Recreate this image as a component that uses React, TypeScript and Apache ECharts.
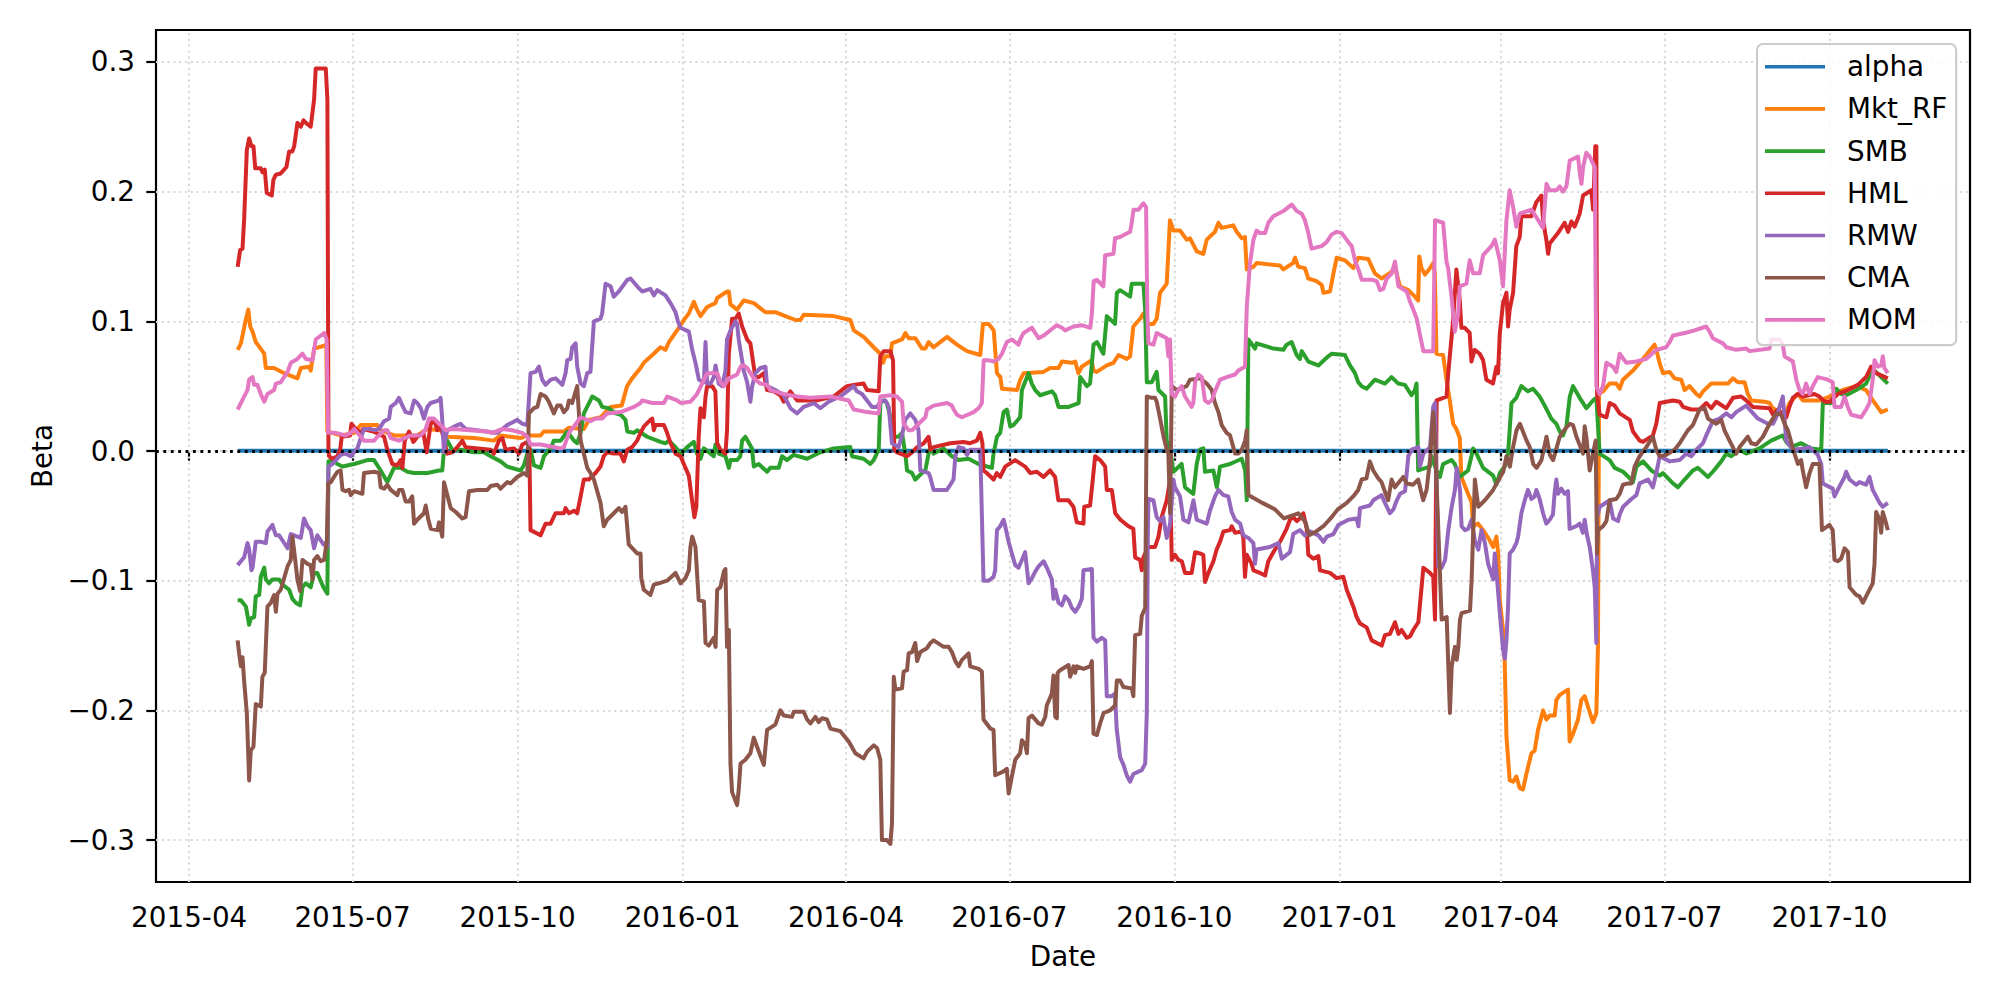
import React, { useEffect, useRef } from 'react';
import * as echarts from 'echarts';

// ---- axes ----
const BASE = Date.UTC(2015, 3, 1); // day 0 = 2015-04-01
const DAY = 86400000;
const X_MIN_DAY = -18.5;
const X_MAX_DAY = 992.3;
const Y_MIN = -0.3323;
const Y_MAX = 0.3246;
const X_TICKS = ['2015-04-01', '2015-07-01', '2015-10-01', '2016-01-01', '2016-04-01', '2016-07-01', '2016-10-01', '2017-01-01', '2017-04-01', '2017-07-01', '2017-10-01'];
const Y_TICKS = [-0.3, -0.2, -0.1, 0, 0.1, 0.2, 0.3];
const NAMES = ['alpha', 'Mkt_RF', 'SMB', 'HML', 'RMW', 'CMA', 'MOM'];
const COLORS = ['#1f77b4', '#ff7f0e', '#2ca02c', '#d62728', '#9467bd', '#8c564b', '#e377c2'];

// ---- data: [days since 2015-04-01, beta] ----
const ALPHA: [number, number][] = [[27, 0.0002], [300, 0.0002], [600, 0.0002], [946.5, 0.0002]];

const MKT_RF: [number, number][] = [[27,0.078],[28.8,0.083],[31.5,0.101],[32.9,0.109],[34,0.096],[35.3,0.092],[37.1,0.084],[40.3,0.078],[41.8,0.075],[42.7,0.064],[47.3,0.064],[52.9,0.06],[58.5,0.057],[60.3,0.056],[62.2,0.064],[66.8,0.065],[67.7,0.062],[69.6,0.079],[74.8,0.081],[76.4,0.082],[77,0.015],[84.4,0.012],[91.9,0.014],[95.6,0.02],[104.9,0.02],[106.7,0.016],[114.1,0.012],[127.1,0.012],[132.7,0.017],[140.1,0.016],[143.8,0.011],[158.7,0.01],[169.8,0.008],[173.5,0.012],[184.7,0.01],[188.4,0.012],[195.8,0.012],[197.6,0.015],[208.8,0.015],[211.6,0.018],[219.9,0.017],[222.7,0.024],[229.2,0.026],[234.8,0.034],[241,0.035],[244,0.05],[246.8,0.056],[251.5,0.064],[253.3,0.068],[258.1,0.074],[262.6,0.08],[265.4,0.078],[267.3,0.084],[272.8,0.095],[275.6,0.101],[278.4,0.106],[281.2,0.115],[283,0.109],[284.9,0.104],[288.6,0.111],[293.2,0.114],[294.2,0.118],[299.7,0.123],[300.7,0.123],[301.6,0.113],[305.3,0.109],[309,0.116],[314.6,0.114],[321.1,0.107],[326.6,0.107],[332.2,0.104],[337.8,0.101],[340.6,0.101],[342.4,0.105],[359.1,0.104],[368.4,0.101],[370.3,0.093],[375.8,0.088],[381.4,0.08],[385.1,0.075],[386.6,0.068],[387.9,0.073],[390.7,0.073],[391.6,0.083],[397.2,0.086],[399.1,0.091],[400.9,0.087],[404.6,0.087],[408.3,0.079],[410.2,0.079],[412,0.084],[414.8,0.08],[418.5,0.084],[422.3,0.088],[427.8,0.082],[433.4,0.077],[440.8,0.074],[442.3,0.098],[445.5,0.098],[448.3,0.093],[450.1,0.06],[452,0.057],[452.9,0.048],[461.3,0.047],[463.1,0.055],[465,0.06],[476,0.061],[479.7,0.064],[484.4,0.064],[486.3,0.069],[491.8,0.068],[493.7,0.069],[495.5,0.06],[497.4,0.065],[502.9,0.07],[503.9,0.062],[505.7,0.061],[511.3,0.066],[515,0.068],[517.8,0.074],[522.4,0.071],[524.3,0.073],[526.1,0.096],[529.9,0.102],[531.7,0.106],[533.6,0.098],[537.3,0.098],[539.1,0.102],[541,0.122],[544.7,0.129],[546.5,0.178],[548.4,0.17],[552.1,0.17],[555.8,0.163],[557.7,0.164],[561.4,0.154],[565.1,0.152],[567,0.163],[571.6,0.169],[573.5,0.176],[575.3,0.172],[581.8,0.174],[583.7,0.169],[586.5,0.164],[588.3,0.165],[589.3,0.14],[593,0.142],[594.8,0.145],[607.8,0.143],[609.7,0.14],[615.2,0.145],[616.2,0.149],[618,0.142],[621.7,0.141],[623.6,0.133],[628.2,0.131],[631.1,0.128],[632,0.122],[635.7,0.123],[637.6,0.137],[639.4,0.149],[644.1,0.147],[648.7,0.141],[651.4,0.149],[657,0.148],[660.7,0.137],[664.4,0.133],[670,0.138],[671.8,0.143],[672.8,0.137],[674.6,0.127],[679.3,0.124],[683,0.119],[684.8,0.116],[685.4,0.15],[686.7,0.141],[688.6,0.136],[691.4,0.141],[693.2,0.145],[694.1,0.137],[695,0.075],[698.7,0.074],[700.6,0.055],[702.4,0.039],[704.3,0.021],[706.1,0.017],[708,0.01],[708.9,-0.02],[712.6,-0.033],[714.5,-0.039],[715.4,-0.058],[718.2,-0.056],[721,-0.061],[724.7,-0.069],[726.6,-0.074],[728.4,-0.066],[729.4,-0.079],[730.3,-0.115],[732.1,-0.138],[733,-0.161],[734,-0.22],[735.8,-0.254],[737.7,-0.255],[739.5,-0.251],[741.4,-0.26],[743.2,-0.261],[745.1,-0.249],[747.9,-0.233],[749.7,-0.231],[751.6,-0.215],[754.4,-0.2],[756.3,-0.207],[758.1,-0.204],[760.9,-0.204],[761.8,-0.192],[763.7,-0.188],[768.3,-0.184],[769.2,-0.224],[771.1,-0.218],[773.9,-0.207],[775.7,-0.192],[777.6,-0.189],[779.4,-0.197],[782.2,-0.209],[784.1,-0.202],[785,-0.151],[785.6,0.044],[787.8,0.046],[791.5,0.052],[795.2,0.052],[797.1,0.048],[798.9,0.055],[804.5,0.062],[808.2,0.068],[811.9,0.074],[814.7,0.079],[816.5,0.082],[817.5,0.078],[819.3,0.068],[821.2,0.06],[824.9,0.061],[827.7,0.056],[831.4,0.055],[833.3,0.047],[836,0.05],[839.8,0.044],[841.6,0.042],[843.5,0.046],[848.1,0.052],[857.4,0.052],[860.2,0.056],[863,0.053],[866.7,0.053],[868.5,0.044],[870.4,0.039],[877.8,0.038],[880.6,0.037],[882.4,0.033],[888,0.029],[889.9,0.03],[891.7,0.037],[896.4,0.044],[899.1,0.039],[908.4,0.039],[914.1,0.042],[921.3,0.047],[928.9,0.05],[934.4,0.047],[937.2,0.041],[942.8,0.03],[946.5,0.032]];

const SMB: [number, number][] = [[27,-0.115],[28.8,-0.115],[31.6,-0.12],[33.4,-0.134],[34.3,-0.129],[36.2,-0.128],[37.1,-0.112],[39,-0.111],[39.9,-0.097],[41.8,-0.09],[42.7,-0.099],[44.5,-0.102],[46.4,-0.099],[50.1,-0.099],[52,-0.103],[55.7,-0.107],[57.5,-0.114],[59.4,-0.117],[61.8,-0.119],[63.1,-0.105],[65,-0.102],[67.7,-0.105],[69.6,-0.094],[71.4,-0.094],[74.8,-0.105],[77,-0.11],[77.6,-0.008],[79.8,-0.007],[82.6,-0.01],[85.4,-0.012],[91.9,-0.01],[99.3,-0.007],[103,-0.007],[106.7,-0.015],[110.4,-0.024],[114.1,-0.013],[117.8,-0.013],[121.6,-0.016],[125.3,-0.017],[132.7,-0.017],[139.2,-0.015],[141,-0.015],[142,0.001],[143.8,0.008],[146.6,0.001],[151.2,0.001],[158.7,-0.001],[164.2,-0.001],[168,-0.004],[173.5,-0.008],[177.2,-0.012],[184.7,-0.015],[186.5,-0.011],[188.4,-0.002],[190.2,0.001],[192.1,-0.011],[195.8,-0.013],[197.7,-0.004],[201.4,0.002],[203.2,0.008],[207,0.008],[210.7,0.015],[214.4,0.008],[216.2,0.006],[218.1,0.014],[219.9,0.029],[224.6,0.042],[228.3,0.039],[230.1,0.034],[233.8,0.033],[237.6,0.029],[240.4,0.028],[243.1,0.024],[244.1,0.015],[247.8,0.014],[249.6,0.016],[255.2,0.011],[262.6,0.007],[265.4,0.006],[267.3,0.008],[271,0.003],[273.8,-0.002],[277.5,0.003],[281.2,0.007],[283,-0.002],[284.9,-0.006],[286.8,0.002],[292.3,-0.004],[293.2,0.005],[295.1,-0.002],[298.8,-0.004],[300.7,-0.013],[301.6,-0.007],[305.3,-0.007],[307.1,-0.004],[308.1,0.008],[309.9,0.011],[313.6,0.002],[314.6,-0.012],[317.3,-0.01],[322,-0.016],[323.8,-0.013],[328.5,-0.013],[330.3,-0.004],[333.1,-0.007],[336.8,-0.003],[344.3,-0.006],[351.7,-0.001],[359.1,0.002],[368.4,0.003],[369.3,-0.004],[375.8,-0.006],[379.5,-0.01],[381.4,-0.007],[384.2,0.001],[385.1,0.037],[387,0.039],[388.8,0.037],[390.7,0.026],[392.6,0.011],[395.3,0.011],[397.2,0.014],[399,-0.002],[400,-0.015],[402.8,-0.017],[404.6,-0.022],[408.3,-0.017],[410.2,-0.015],[412,-0.002],[413,0.003],[414.8,-0.002],[420.3,0.002],[425,-0.004],[428.7,-0.007],[434.3,-0.006],[439.8,-0.01],[447.3,-0.013],[448.2,-0.002],[450.1,0.011],[451.9,0.014],[453.8,0.03],[455.6,0.032],[457.5,0.019],[459.3,0.02],[463,0.026],[464,0.047],[467.7,0.06],[469.5,0.052],[471.4,0.047],[474.2,0.043],[480.7,0.046],[482.5,0.043],[484.4,0.034],[490,0.034],[495.6,0.037],[496.5,0.057],[500.2,0.05],[502,0.052],[503.9,0.082],[505.8,0.084],[509.4,0.075],[511.3,0.104],[515.9,0.098],[516.9,0.122],[518.7,0.124],[524.3,0.119],[525.2,0.129],[531.7,0.129],[532.7,0.109],[533.6,0.053],[536.3,0.053],[539.1,0.061],[540.1,0.047],[543.8,0.042],[544.7,0.008],[546.6,0.001],[548.4,-0.016],[553,-0.01],[554.9,-0.028],[559.5,-0.033],[561.4,-0.01],[563.2,0.001],[565.1,0.002],[566,-0.016],[570.7,-0.015],[572.6,-0.028],[574.4,-0.012],[580,-0.01],[586.5,-0.006],[588.4,-0.015],[589.3,-0.038],[590.2,0.086],[593.9,0.079],[594.8,0.083],[604.1,0.079],[609.7,0.078],[611.5,0.082],[614.3,0.084],[617.1,0.074],[618.9,0.071],[619.9,0.077],[623.6,0.069],[629.2,0.066],[634.7,0.073],[636.6,0.075],[644,0.074],[646.8,0.066],[649.6,0.06],[651.4,0.053],[653.3,0.05],[656.1,0.048],[660.7,0.055],[666.3,0.052],[670,0.057],[673.7,0.052],[677.4,0.051],[681.1,0.043],[683,0.047],[683.9,0.052],[684.8,-0.015],[691.3,-0.012],[692.2,-0.004],[695,-0.015],[696.9,-0.02],[698.7,-0.01],[703.4,-0.007],[705.2,-0.01],[708,-0.02],[712.6,-0.015],[714.5,-0.004],[715.4,0.002],[717.3,-0.002],[721,-0.013],[726.6,-0.019],[728.4,-0.026],[730.3,-0.017],[733.1,-0.012],[734.9,-0.002],[736.8,0.037],[739.5,0.041],[742.3,0.05],[746,0.046],[748.8,0.048],[752.5,0.042],[755.3,0.035],[759,0.025],[761.8,0.021],[763.7,0.015],[765.5,0.012],[767.4,0.019],[769.3,0.042],[771.1,0.05],[775.7,0.039],[778.5,0.033],[782.2,0.039],[784.1,0.041],[785.9,-0.002],[791.5,-0.007],[794.3,-0.013],[799,-0.016],[802.7,-0.021],[804.5,-0.024],[806.4,-0.012],[810.1,-0.008],[814.7,-0.015],[819.4,-0.019],[821.2,-0.017],[826.8,-0.025],[829.6,-0.028],[833.3,-0.022],[837.9,-0.015],[840.7,-0.013],[846.3,-0.02],[849,-0.016],[853.7,-0.008],[856.5,-0.002],[859.3,-0.004],[863.9,0.001],[867.6,-0.002],[875,0.002],[881.5,0.008],[888,0.012],[889.9,0.007],[892.6,0.003],[898.2,0.006],[903.8,0.002],[909.4,0.001],[910.3,0.037],[915,0.037],[917.8,0.048],[920.5,0.044],[923.3,0.043],[928.9,0.047],[934.4,0.052],[937.2,0.06],[939.1,0.062],[942.8,0.057],[946.5,0.052]];

const HML: [number, number][] = [[27,0.142],[28.4,0.155],[29.7,0.156],[30.6,0.178],[32.1,0.232],[33.4,0.241],[34.7,0.235],[35.8,0.235],[36.8,0.218],[39.9,0.218],[40.8,0.215],[42.1,0.217],[43.2,0.199],[46,0.197],[46.9,0.209],[48.3,0.213],[51,0.214],[54.2,0.219],[55.7,0.231],[57.5,0.231],[58.5,0.235],[60.3,0.253],[62.2,0.25],[63.7,0.255],[65,0.253],[67.7,0.25],[69.6,0.271],[70.5,0.295],[76.1,0.295],[77,0.271],[77.6,0.001],[77.9,-0.004],[79.8,-0.006],[82.6,-0.004],[84.1,0.001],[85,0.011],[89.6,0.012],[90.4,0.021],[92.8,0.017],[95.6,0.014],[96.9,0.017],[102.6,0.015],[108.6,0.011],[110.4,0.001],[113.2,-0.01],[116,-0.011],[117.8,-0.007],[118.8,-0.013],[120.1,0.008],[122.5,0.015],[124.9,0.007],[127.1,0.011],[130.5,0.014],[132.3,-0.001],[134.6,0.021],[136.4,0.024],[138.3,0.016],[140.1,0.02],[142,0.008],[143.8,-0.002],[146.6,-0.001],[149.4,0.003],[152.2,0.008],[154,0.003],[168,0.001],[169.8,-0.002],[172.6,0.008],[174.5,0.01],[176.3,0.001],[181,0.002],[183.7,-0.002],[185.6,0.005],[188.4,0.007],[189.5,0.005],[190.2,-0.061],[195.8,-0.065],[198.6,-0.056],[201.4,-0.056],[204.1,-0.048],[208.8,-0.048],[209.7,-0.044],[211.6,-0.048],[214.4,-0.046],[216.2,-0.048],[218.1,-0.035],[219.9,-0.022],[222.7,-0.022],[226.4,-0.017],[229.2,-0.012],[231,-0.004],[232.9,-0.001],[236.6,-0.002],[240.3,-0.002],[242.2,-0.008],[244.1,0.001],[246.8,0.003],[249.6,0.008],[251.5,0.014],[253.4,0.019],[257,0.024],[258,0.025],[258.9,0.016],[259.8,0.02],[264.5,0.02],[266.3,0.014],[268.2,0.006],[271,-0.002],[273.8,-0.004],[275.6,-0.01],[278.4,-0.019],[280.2,-0.038],[281.5,-0.051],[282.6,-0.043],[283.9,0.011],[284.9,0.033],[286.8,0.026],[287.7,0.042],[288.6,0.05],[291.4,0.05],[293.2,0.046],[294.2,0.006],[296,0.001],[298.8,-0.002],[299.7,0.016],[300.7,0.075],[302.5,0.102],[304.4,0.102],[306.2,0.106],[308.1,0.096],[310.9,0.086],[312.7,0.083],[314.6,0.065],[315.5,0.057],[317.4,0.057],[320.1,0.06],[322,0.047],[325.7,0.046],[329.4,0.043],[331.3,0.038],[335,0.046],[338.7,0.039],[349.9,0.039],[359.1,0.042],[366.5,0.05],[370.2,0.051],[375.8,0.052],[377.7,0.047],[384.2,0.046],[385.1,0.073],[387,0.077],[390.7,0.077],[392.2,0.07],[392.9,0.001],[394.4,-0.001],[400,-0.004],[402.8,-0.001],[405.6,0.003],[409.3,0.006],[412,0.011],[413,0.001],[414.8,0.003],[424.1,0.006],[431.4,0.007],[435.2,0.006],[438.9,0.008],[440.8,0.014],[442,0.006],[442.6,-0.015],[444.4,-0.017],[448.2,-0.022],[450,-0.017],[451.9,-0.02],[454.7,-0.012],[460.2,-0.007],[465.8,-0.012],[468.6,-0.017],[472.3,-0.016],[476,-0.02],[479.7,-0.015],[482.5,-0.02],[484.3,-0.038],[489.9,-0.038],[492.7,-0.043],[494.6,-0.055],[498.3,-0.056],[498.7,-0.043],[502,-0.042],[503.5,-0.022],[504.8,-0.004],[507.6,-0.007],[510.4,-0.012],[511.3,-0.03],[514.1,-0.03],[516,-0.048],[518.9,-0.053],[523.4,-0.058],[526.1,-0.06],[527.1,-0.082],[529.9,-0.084],[530.8,-0.092],[531.7,-0.082],[534.5,-0.074],[538.2,-0.074],[540.1,-0.066],[541.9,-0.051],[544.7,-0.038],[546.6,-0.022],[547.5,-0.084],[549.3,-0.08],[551.2,-0.084],[553.1,-0.085],[554.9,-0.094],[558.6,-0.094],[560.5,-0.078],[563.2,-0.079],[565.1,-0.08],[566,-0.101],[567.9,-0.094],[570.7,-0.085],[572.5,-0.076],[574.4,-0.07],[576.3,-0.062],[580,-0.061],[580.9,-0.058],[582.8,-0.063],[586.5,-0.062],[587.4,-0.067],[588.3,-0.097],[589.3,-0.08],[592,-0.087],[593,-0.092],[596.7,-0.094],[599.5,-0.096],[601.3,-0.085],[604.1,-0.078],[607.8,-0.07],[611.5,-0.06],[613.4,-0.053],[615.2,-0.051],[617.1,-0.054],[619,-0.052],[620.8,-0.048],[622.7,-0.06],[623.6,-0.08],[626.4,-0.083],[629.2,-0.081],[630.1,-0.092],[635.7,-0.094],[639.4,-0.098],[643.1,-0.097],[645,-0.107],[648.7,-0.12],[650.5,-0.128],[652.4,-0.133],[656.1,-0.136],[658.9,-0.146],[664.5,-0.15],[666.3,-0.142],[669.1,-0.141],[671.9,-0.132],[673.8,-0.141],[675.6,-0.138],[678.4,-0.144],[680.3,-0.143],[682.1,-0.138],[684.9,-0.132],[687.7,-0.09],[691.4,-0.094],[693.2,-0.097],[694.2,-0.13],[695.1,0.039],[700.6,0.042],[701.5,0.059],[704.3,0.101],[706.1,0.14],[708,0.116],[708.9,0.095],[710.8,0.095],[713.5,0.091],[714.5,0.069],[716.3,0.078],[719.1,0.075],[721,0.07],[722.8,0.055],[726.5,0.052],[728.4,0.065],[729.3,0.06],[730.3,0.091],[732.1,0.114],[734,0.122],[734.9,0.096],[735.8,0.109],[737.7,0.122],[739.5,0.158],[741.4,0.165],[742.3,0.181],[747.9,0.181],[750.7,0.192],[753.5,0.197],[754.4,0.178],[756.2,0.163],[757.2,0.152],[758.1,0.16],[762.7,0.168],[766.4,0.176],[768.3,0.169],[770.2,0.177],[772,0.173],[774.8,0.183],[776.7,0.197],[781.3,0.201],[782.3,0.186],[783.5,0.235],[784.1,0.235],[784.5,0.044],[785.9,0.028],[789.7,0.026],[791.5,0.037],[794.3,0.035],[797.1,0.029],[802.7,0.024],[804.5,0.015],[808.2,0.008],[810.1,0.007],[815.6,0.012],[817.5,0.021],[819.4,0.037],[826.8,0.039],[830.5,0.038],[832.4,0.034],[837,0.032],[841.6,0.032],[845.4,0.037],[848.1,0.033],[850.9,0.038],[856.5,0.033],[860.2,0.041],[864.8,0.042],[867.6,0.039],[871.3,0.034],[880.6,0.033],[882.5,0.028],[885.2,0.032],[889.9,0.026],[891.7,0.034],[893.6,0.041],[896.4,0.044],[899.1,0.042],[905.6,0.044],[908.4,0.042],[911.2,0.038],[914.1,0.038],[918.7,0.044],[924.3,0.047],[929.8,0.051],[934.4,0.057],[937.2,0.065],[940,0.06],[946.5,0.056]];

const RMW: [number, number][] = [[27,-0.088],[28.8,-0.085],[30.6,-0.082],[32.5,-0.071],[33.4,-0.076],[34.7,-0.092],[35.3,-0.09],[37.1,-0.07],[39.9,-0.07],[42.7,-0.071],[43.6,-0.062],[46.4,-0.057],[47.3,-0.061],[48.3,-0.065],[50.1,-0.065],[52,-0.069],[54.8,-0.075],[56.6,-0.064],[60.3,-0.066],[62.2,-0.067],[64,-0.052],[65.9,-0.058],[67.7,-0.061],[69.6,-0.075],[71.4,-0.065],[74.8,-0.072],[76.1,-0.071],[77,-0.074],[77.6,-0.012],[79.8,-0.01],[84.4,-0.003],[87.2,-0.002],[90,-0.004],[93.7,0.002],[95.6,0.01],[97.4,0.017],[101.1,0.017],[103,0.016],[105.8,0.017],[108.6,0.023],[111.4,0.025],[112.3,0.034],[115.1,0.037],[116.9,0.041],[118.8,0.035],[120.6,0.03],[123.4,0.029],[125.3,0.039],[127.1,0.037],[129,0.033],[130.8,0.025],[132.7,0.034],[134.5,0.037],[139.2,0.039],[140.1,0.041],[141,0.024],[142,-0.001],[142.9,0.011],[143.8,0.016],[149.4,0.02],[151.2,0.021],[154,0.017],[160.5,0.016],[169.8,0.014],[171.7,0.014],[174.5,0.017],[177.2,0.02],[182.8,0.024],[185.6,0.021],[188.4,0.02],[190.2,0.06],[193,0.061],[194.9,0.065],[196.7,0.055],[198.6,0.051],[201.4,0.055],[204.2,0.056],[207.9,0.051],[209.7,0.06],[210.7,0.07],[212.5,0.071],[213.4,0.08],[215.3,0.083],[216.2,0.065],[218.1,0.052],[219.9,0.05],[221.8,0.06],[223.6,0.061],[225.5,0.1],[229.2,0.102],[230.1,0.106],[232,0.129],[234.8,0.127],[236.6,0.119],[239.4,0.123],[244.1,0.132],[245.9,0.133],[249.6,0.127],[252.4,0.123],[257,0.125],[258.9,0.12],[260.8,0.124],[265.4,0.12],[268.2,0.114],[271,0.107],[272.3,0.1],[273.8,0.095],[278.4,0.092],[280.3,0.078],[282.1,0.068],[284,0.055],[286.8,0.053],[287.7,0.084],[288.6,0.052],[290.5,0.052],[292.3,0.057],[293.3,0.066],[295.1,0.052],[297,0.05],[298.8,0.062],[299.7,0.086],[301.6,0.093],[304.4,0.1],[305.3,0.098],[306.2,0.086],[309,0.062],[310.9,0.053],[312.7,0.038],[313.7,0.05],[315.5,0.06],[318.3,0.064],[321.1,0.065],[322,0.05],[326.6,0.047],[331.3,0.043],[335,0.033],[338.7,0.029],[342.4,0.034],[348,0.037],[351.7,0.033],[356.3,0.038],[362.8,0.042],[366.5,0.046],[370.3,0.05],[372.1,0.046],[374.9,0.044],[377.7,0.039],[380.5,0.034],[383.3,0.034],[385.1,0.038],[387.9,0.039],[389.8,0.034],[391.6,0.006],[395.3,0.003],[397.2,0.012],[399,0.024],[401.8,0.029],[404.6,0.024],[406.4,0.016],[407.4,-0.015],[412,-0.017],[412.9,-0.02],[414.8,-0.03],[422.2,-0.03],[424.1,-0.026],[425.9,-0.022],[426.9,-0.004],[428.7,0.003],[431.5,0.002],[433.4,-0.003],[435.2,0.001],[440.8,0.001],[442.6,-0.1],[445.4,-0.1],[448.2,-0.097],[449.1,-0.092],[450.1,-0.061],[451.9,-0.058],[453.8,-0.053],[454.7,-0.058],[456.6,-0.07],[458.4,-0.079],[460.3,-0.088],[462.1,-0.09],[464,-0.084],[465.8,-0.078],[467.7,-0.102],[469.6,-0.098],[471.4,-0.093],[473.3,-0.089],[476.1,-0.085],[477.9,-0.09],[480.7,-0.099],[481.6,-0.114],[482.6,-0.107],[484.4,-0.117],[486.3,-0.119],[488.1,-0.112],[490,-0.115],[491.9,-0.121],[493.7,-0.124],[495.6,-0.12],[497.4,-0.114],[498.3,-0.092],[503,-0.091],[503.9,-0.144],[505.8,-0.147],[508.5,-0.144],[510.4,-0.146],[511.3,-0.189],[514,-0.189],[515.9,-0.187],[516.8,-0.214],[518.7,-0.236],[520.6,-0.242],[522.4,-0.25],[524.3,-0.255],[526.1,-0.249],[530.8,-0.246],[532.7,-0.241],[533.6,-0.202],[534.1,-0.074],[534.5,-0.037],[537.3,-0.038],[539.1,-0.051],[541,-0.054],[542.8,-0.051],[544.7,-0.067],[546.6,-0.056],[548.4,-0.022],[549.3,-0.028],[552.1,-0.035],[554,-0.053],[556.8,-0.055],[558.6,-0.044],[559.6,-0.038],[561.4,-0.053],[567,-0.056],[568.8,-0.046],[571.6,-0.035],[573.5,-0.03],[576.3,-0.034],[579,-0.035],[580.9,-0.047],[582.8,-0.053],[585.6,-0.056],[587.4,-0.065],[590.2,-0.067],[593,-0.071],[593.9,-0.087],[594.8,-0.076],[602.2,-0.074],[606.9,-0.071],[608.8,-0.083],[613.4,-0.078],[615.2,-0.064],[618.9,-0.061],[621.7,-0.065],[624.5,-0.062],[629.2,-0.065],[632,-0.07],[633.9,-0.066],[637.6,-0.064],[640.3,-0.057],[645.9,-0.053],[650.5,-0.052],[651.5,-0.058],[652.4,-0.044],[657.9,-0.042],[659.8,-0.038],[664.4,-0.034],[666.3,-0.04],[669.1,-0.048],[671,-0.045],[672.9,-0.038],[674.7,-0.033],[677.5,-0.031],[679.3,-0.004],[681.2,0.001],[684.9,0.003],[685.8,-0.012],[687.7,-0.002],[691.4,0.003],[693.2,0.034],[694.2,0.037],[696,-0.089],[697.9,-0.09],[699.8,-0.084],[701.6,-0.061],[703.5,-0.043],[705.3,-0.03],[706.3,-0.013],[708.1,-0.03],[709,-0.058],[710.9,-0.061],[712.7,-0.06],[714.6,-0.053],[716.4,-0.069],[718.3,-0.076],[720.1,-0.061],[722,-0.071],[723.8,-0.087],[726.6,-0.099],[727.5,-0.079],[728.5,-0.094],[730.3,-0.125],[732.1,-0.153],[733.1,-0.16],[734,-0.146],[734.9,-0.12],[735.8,-0.079],[737.7,-0.076],[739.5,-0.071],[740.5,-0.066],[742.3,-0.048],[744.2,-0.038],[746,-0.03],[747.9,-0.037],[749.7,-0.035],[750.7,-0.03],[752.5,-0.037],[754.4,-0.048],[756.2,-0.056],[758.1,-0.053],[759.9,-0.049],[760.8,-0.033],[761.8,-0.022],[762.7,-0.033],[764.6,-0.029],[766.4,-0.033],[768.3,-0.031],[769.2,-0.06],[772.9,-0.058],[774.8,-0.056],[776.6,-0.063],[777.6,-0.053],[778.9,-0.065],[780.4,-0.074],[782.2,-0.092],[783.2,-0.105],[784.1,-0.148],[784.5,-0.051],[786,-0.043],[791.5,-0.038],[793.4,-0.052],[796.2,-0.054],[797.1,-0.049],[799,-0.043],[803.6,-0.037],[806.4,-0.034],[808.2,-0.025],[812.9,-0.022],[815.6,-0.028],[817.5,-0.017],[819.4,-0.004],[824.9,-0.008],[830.5,-0.007],[834.2,-0.002],[837,-0.004],[839.8,0.001],[843.5,0.006],[845.3,0.012],[849,0.023],[852.8,0.025],[856.5,0.029],[859.3,0.026],[862,0.03],[867.6,0.035],[869.5,0.032],[874.1,0.025],[879.7,0.021],[882.5,0.021],[884.3,0.026],[886.2,0.034],[888,0.042],[889,0.024],[889.9,0.008],[893.6,0.001],[899.1,0.002],[902.9,0.003],[907.5,-0.003],[909.4,-0.01],[910.3,-0.025],[915.8,-0.029],[916.8,-0.035],[918.6,-0.03],[922.4,-0.02],[923.3,-0.016],[925.2,-0.022],[928.9,-0.026],[930.7,-0.024],[934.4,-0.026],[936.3,-0.02],[938.1,-0.03],[941.9,-0.04],[943.7,-0.043],[946.5,-0.04]];

const CMA: [number, number][] = [[27,-0.146],[27.8,-0.156],[28.8,-0.166],[29.7,-0.159],[30.6,-0.177],[32.1,-0.202],[33.4,-0.254],[34.3,-0.231],[35.8,-0.228],[37.1,-0.195],[39.9,-0.197],[40.8,-0.174],[42.1,-0.171],[43.6,-0.12],[45.5,-0.117],[47.3,-0.111],[48.3,-0.124],[49.2,-0.11],[51,-0.107],[52.9,-0.098],[54.8,-0.089],[56.6,-0.084],[57.5,-0.066],[58.9,-0.082],[60.3,-0.099],[61.8,-0.108],[63.1,-0.084],[65.9,-0.087],[67.7,-0.088],[68.7,-0.099],[69.6,-0.084],[71.4,-0.081],[73.3,-0.085],[75.2,-0.084],[76.7,-0.069],[77.4,-0.025],[78.9,-0.024],[80.7,-0.02],[82.6,-0.016],[84.4,-0.015],[85.4,-0.03],[87.2,-0.031],[89.1,-0.03],[90,-0.034],[91.9,-0.031],[96.5,-0.033],[97.4,-0.017],[103,-0.016],[105.8,-0.017],[106.7,-0.028],[108.6,-0.029],[110.4,-0.026],[112.3,-0.03],[116,-0.034],[116.9,-0.03],[118.8,-0.03],[120.6,-0.039],[122.5,-0.039],[124.3,-0.035],[125.3,-0.056],[127.1,-0.053],[130.8,-0.048],[131.8,-0.042],[133.1,-0.052],[134.6,-0.06],[138.3,-0.061],[139.2,-0.055],[141,-0.066],[142,-0.024],[143.8,-0.034],[145.7,-0.044],[148.5,-0.047],[152.2,-0.052],[154,-0.051],[155.9,-0.031],[160.5,-0.03],[166.1,-0.03],[168,-0.027],[171.7,-0.026],[173.5,-0.029],[177.2,-0.024],[179.1,-0.025],[182.8,-0.02],[186.5,-0.017],[188.4,-0.019],[189.3,0.029],[192.1,0.033],[194,0.034],[195.8,0.044],[198.6,0.042],[200.4,0.038],[203.2,0.029],[205.1,0.035],[207,0.035],[208.8,0.03],[210.7,0.033],[211.6,0.039],[213.4,0.037],[216.2,0.05],[218.1,0.008],[219.9,-0.002],[221.8,-0.013],[223.6,-0.017],[225.5,-0.022],[229.2,-0.04],[231,-0.058],[232.9,-0.053],[236.6,-0.048],[239.4,-0.044],[241.2,-0.047],[243.1,-0.043],[244.9,-0.072],[249.6,-0.079],[251.5,-0.079],[251.9,-0.098],[253.3,-0.107],[257,-0.111],[258.9,-0.103],[261.7,-0.102],[266.3,-0.1],[271,-0.094],[273.8,-0.102],[276.5,-0.098],[278.4,-0.092],[279.3,-0.074],[280.3,-0.066],[282.1,-0.074],[283.9,-0.115],[286.8,-0.116],[287.7,-0.148],[289.5,-0.15],[292.3,-0.144],[293.3,-0.151],[294.2,-0.107],[296,-0.105],[297.9,-0.093],[298.8,-0.091],[299.7,-0.151],[300.7,-0.138],[301.6,-0.241],[302.5,-0.263],[305.3,-0.273],[306.2,-0.261],[307.2,-0.241],[309.9,-0.238],[312.7,-0.233],[314.6,-0.221],[316.4,-0.228],[320.2,-0.242],[322,-0.215],[326.6,-0.211],[329.4,-0.2],[331.3,-0.204],[335.9,-0.205],[336.9,-0.201],[342.4,-0.201],[344.3,-0.207],[346.2,-0.21],[348.9,-0.205],[350.8,-0.209],[352.6,-0.206],[355.4,-0.207],[357.3,-0.214],[362.8,-0.216],[367.5,-0.224],[371.2,-0.233],[375.8,-0.237],[377.7,-0.232],[381.4,-0.227],[383.3,-0.229],[385.1,-0.238],[386,-0.3],[388.8,-0.3],[390.7,-0.303],[391.6,-0.287],[392.6,-0.174],[393.5,-0.184],[397.2,-0.183],[398.1,-0.17],[400,-0.169],[400.9,-0.156],[402.8,-0.155],[404.6,-0.148],[405.6,-0.162],[407.4,-0.155],[411.1,-0.152],[413,-0.148],[414.8,-0.146],[420.4,-0.151],[423.2,-0.151],[425,-0.155],[426.9,-0.162],[428.7,-0.166],[430.6,-0.161],[434.3,-0.156],[435.2,-0.166],[439.9,-0.168],[441.7,-0.17],[442.6,-0.207],[446.4,-0.214],[448.2,-0.215],[449.1,-0.25],[453.8,-0.247],[455.6,-0.245],[456.6,-0.264],[458.4,-0.251],[460.3,-0.238],[463,-0.233],[464,-0.223],[465.8,-0.226],[466.8,-0.233],[467.7,-0.206],[469.6,-0.204],[473.3,-0.21],[475.1,-0.211],[477,-0.205],[477.9,-0.196],[480.7,-0.187],[481.6,-0.173],[482.6,-0.205],[483.5,-0.206],[483.9,-0.171],[485.3,-0.169],[490,-0.165],[490.9,-0.174],[492.8,-0.166],[493.7,-0.171],[494.6,-0.166],[498.3,-0.168],[502,-0.166],[503,-0.162],[503.9,-0.218],[505.8,-0.219],[507.6,-0.21],[509.5,-0.202],[513.2,-0.2],[516,-0.196],[516.9,-0.177],[518.7,-0.177],[520.6,-0.182],[525.2,-0.183],[526.1,-0.189],[527.1,-0.142],[529.9,-0.141],[530.8,-0.127],[532.7,-0.121],[533.6,0.042],[536.3,0.041],[538.2,0.041],[539.1,0.038],[541,0.025],[542.8,0.012],[544.7,0.001],[545.6,-0.002],[546.6,-0.048],[547.5,0.05],[550.3,0.047],[552.1,0.048],[555.8,0.05],[557.7,0.055],[563.3,0.056],[567,0.052],[569.8,0.047],[571.6,0.037],[573.5,0.03],[575.3,0.02],[578.1,0.014],[580,0.012],[581.8,0.003],[582.8,-0.002],[584.6,-0.002],[586.5,0.001],[588.4,0.008],[589.3,0.016],[590.2,-0.034],[598,-0.04],[605,-0.045],[610,-0.052],[614,-0.05],[618,-0.048],[622,-0.055],[624,-0.065],[628,-0.062],[632,-0.058],[636,-0.052],[640,-0.045],[645,-0.04],[648.6,-0.035],[651.4,-0.03],[653.3,-0.022],[656,-0.021],[657.9,-0.008],[659.8,-0.015],[662.5,-0.021],[664.4,-0.024],[666.2,-0.031],[668.1,-0.038],[670,-0.022],[671.8,-0.028],[676.5,-0.02],[678.4,-0.025],[682,-0.026],[684.8,-0.022],[687.6,-0.038],[689.5,-0.03],[691.4,-0.007],[693.2,0.03],[694.1,0.011],[697.9,-0.13],[700.7,-0.128],[701.6,-0.166],[702.5,-0.202],[703.5,-0.166],[705.3,-0.151],[706.3,-0.161],[707.2,-0.151],[708.1,-0.13],[709,-0.125],[713.7,-0.123],[714.6,-0.099],[716.4,-0.022],[718.3,-0.043],[722,-0.038],[726.6,-0.03],[728.5,-0.025],[732.2,-0.016],[734,-0.004],[735.9,-0.012],[737.7,0.003],[739.6,0.016],[741.5,0.021],[745.2,0.008],[747,0.003],[748.9,-0.01],[750.8,-0.013],[753.5,-0.007],[755.4,0.005],[756.3,0.011],[758.2,-0.003],[760,-0.007],[763.7,0.011],[765.5,0.015],[769.3,0.021],[771.1,0.02],[773,0.011],[776.7,-0.002],[777.6,0.019],[778.5,0.011],[780.4,-0.015],[782.2,-0.002],[783.7,0.008],[784.5,-0.079],[785,-0.061],[787.8,-0.058],[789.7,-0.054],[791.5,-0.038],[795.2,-0.037],[797.1,-0.033],[798.9,-0.026],[801.7,-0.025],[803.6,-0.025],[805.4,-0.012],[808.2,-0.004],[811.9,0.003],[815.6,0.011],[817.5,0.001],[819.4,-0.004],[823,-0.003],[827.7,0.001],[830.5,0.006],[835.1,0.016],[837.9,0.02],[841.6,0.032],[844.4,0.033],[846.3,0.025],[850.9,0.021],[853.7,0.024],[855.5,0.016],[858.3,0.008],[862,-0.002],[863.9,0.003],[868.5,0.011],[870.4,0.006],[873.2,0.005],[876.9,0.011],[880.6,0.021],[884.3,0.029],[887.1,0.028],[889,0.021],[890.8,0.016],[894.5,-0.002],[896.4,-0.01],[898.2,-0.007],[899.1,-0.015],[901,-0.028],[902.9,-0.017],[904.7,-0.01],[908.4,-0.01],[909.8,-0.061],[914,-0.057],[915.8,-0.061],[916.8,-0.084],[918.7,-0.085],[920.5,-0.083],[922.4,-0.075],[924.3,-0.078],[925.2,-0.105],[928.9,-0.111],[930.7,-0.112],[932.6,-0.117],[934.4,-0.112],[938.1,-0.102],[939.1,-0.087],[940,-0.047],[941.9,-0.053],[942.8,-0.063],[943.7,-0.047],[945.6,-0.056],[946.5,-0.061]];

const MOM: [number, number][] = [[27,0.032],[30.6,0.042],[32.5,0.047],[33.4,0.055],[35.3,0.057],[36.2,0.051],[38,0.051],[39.9,0.044],[41.8,0.038],[43.6,0.044],[47.3,0.047],[48.3,0.052],[51,0.053],[54.8,0.061],[56.6,0.068],[60.3,0.071],[63.1,0.075],[65,0.071],[68.7,0.07],[70.5,0.086],[75.2,0.091],[76.6,0.086],[77.4,0.014],[81.7,0.014],[87.2,0.012],[90,0.014],[91.9,0.017],[95.6,0.011],[97.4,0.008],[103,0.008],[104.9,0.011],[108.6,0.016],[110.4,0.016],[112.3,0.01],[116.9,0.008],[123.4,0.012],[129,0.012],[131.8,0.017],[133.6,0.025],[136.4,0.025],[140.1,0.02],[142.9,0.016],[146.6,0.017],[166.1,0.015],[168.9,0.014],[174.5,0.017],[180,0.016],[185.6,0.014],[188.4,0.011],[190.2,0.005],[195.8,0.005],[207,0.002],[208.8,0.003],[211.6,0.014],[214.4,0.019],[218.1,0.026],[223.6,0.023],[226.4,0.025],[230.1,0.025],[232.9,0.029],[240.4,0.03],[247.8,0.034],[251.5,0.037],[252.4,0.039],[258,0.037],[264.5,0.037],[266.4,0.042],[271.9,0.039],[273.8,0.037],[279.3,0.038],[281.2,0.041],[283,0.044],[285.8,0.052],[288.6,0.06],[294.2,0.06],[296,0.053],[297.9,0.05],[300.7,0.056],[305.3,0.059],[307.2,0.065],[309,0.066],[310.9,0.064],[314.6,0.056],[318.3,0.052],[322,0.051],[323.9,0.047],[331.3,0.044],[338.7,0.042],[346.1,0.041],[357.3,0.042],[367.5,0.039],[370.3,0.032],[377.7,0.03],[384.2,0.029],[385.1,0.042],[390.7,0.043],[394.4,0.042],[397.2,0.038],[398.1,0.021],[400.9,0.016],[402.8,0.016],[406.5,0.021],[410.2,0.026],[411.1,0.032],[414.8,0.035],[422.3,0.037],[425,0.035],[426,0.032],[427.8,0.028],[430.6,0.026],[437.1,0.03],[439.9,0.033],[441.7,0.037],[442.7,0.07],[445.4,0.07],[448.2,0.069],[451,0.071],[452.9,0.075],[455.6,0.084],[458.4,0.086],[462.1,0.082],[463.1,0.086],[464.9,0.091],[469.6,0.095],[471.4,0.091],[473.3,0.087],[476.1,0.089],[481.6,0.095],[483.5,0.097],[486.3,0.095],[488.1,0.093],[492.8,0.096],[497.4,0.097],[502.1,0.095],[503,0.106],[504,0.131],[505.7,0.132],[509.4,0.127],[510.4,0.151],[515,0.152],[515.9,0.164],[518.7,0.165],[524.3,0.169],[525.2,0.176],[526.2,0.186],[528.9,0.186],[531.7,0.191],[533.2,0.188],[533.9,0.106],[534.5,0.083],[537.3,0.082],[539.1,0.091],[544.7,0.087],[545.6,0.073],[546.5,0.086],[547.5,0.044],[549.3,0.042],[551.2,0.047],[553,0.05],[554.9,0.042],[558.6,0.034],[559.5,0.037],[560.5,0.053],[562.3,0.059],[564.2,0.057],[566,0.039],[567.9,0.037],[569.8,0.039],[571.6,0.046],[574.4,0.055],[578.1,0.057],[582.8,0.059],[584.6,0.062],[588.3,0.065],[589.3,0.111],[591.1,0.145],[593,0.163],[594.8,0.17],[596.7,0.168],[599.5,0.168],[601.3,0.176],[604.1,0.181],[609.7,0.185],[614.3,0.19],[617.1,0.185],[619.9,0.183],[621.7,0.178],[623.6,0.168],[625.4,0.156],[631,0.158],[633.8,0.161],[636.6,0.167],[639.4,0.169],[642.2,0.168],[645.9,0.161],[647.8,0.158],[649.6,0.147],[651.5,0.14],[653.4,0.132],[658.9,0.132],[661.7,0.131],[663.6,0.124],[665.4,0.125],[667.3,0.133],[670.1,0.137],[671.9,0.146],[673.8,0.127],[678.4,0.123],[680.3,0.115],[682.1,0.109],[684,0.102],[685.9,0.089],[687.7,0.077],[693.2,0.077],[694.2,0.178],[698.7,0.176],[700.6,0.146],[701.5,0.141],[703.4,0.119],[705.2,0.092],[707.1,0.106],[708,0.127],[711.7,0.129],[713.5,0.147],[715.4,0.137],[719.1,0.137],[721,0.151],[725.6,0.158],[727.5,0.163],[728.4,0.158],[730.3,0.147],[732.1,0.127],[734,0.178],[735.8,0.201],[737.7,0.188],[739.5,0.173],[741.4,0.183],[747.9,0.186],[749.8,0.182],[754.4,0.172],[756.3,0.206],[758.1,0.201],[761.9,0.201],[763.7,0.204],[765.5,0.2],[767.4,0.204],[769.3,0.224],[773.9,0.227],[774.8,0.215],[775.8,0.206],[776.7,0.219],[778.5,0.23],[780.4,0.227],[783.2,0.219],[784.1,0.05],[785.9,0.044],[787.8,0.05],[789.7,0.068],[793.4,0.065],[795.2,0.061],[797.1,0.075],[800.8,0.068],[806.4,0.069],[811.9,0.071],[817.5,0.078],[823,0.08],[824.9,0.084],[826.8,0.089],[833.3,0.091],[838.8,0.093],[845.3,0.096],[847.2,0.092],[849,0.087],[854.6,0.083],[856.5,0.08],[862,0.078],[867.6,0.079],[869.5,0.077],[880.6,0.079],[881.6,0.086],[886.2,0.086],[888,0.082],[889,0.073],[893.6,0.069],[895.5,0.055],[897.3,0.047],[899.2,0.044],[901,0.052],[902.9,0.044],[904.7,0.05],[907.5,0.057],[913.1,0.055],[915.8,0.053],[916.8,0.034],[920.5,0.034],[922.4,0.042],[924.2,0.034],[926.1,0.028],[931.7,0.026],[934.4,0.032],[936.3,0.037],[938.1,0.055],[939.1,0.07],[940.9,0.065],[942.8,0.066],[943.7,0.073],[944.6,0.064],[946.5,0.06]];

const SERIES_DATA = [ALPHA, MKT_RF, SMB, HML, RMW, CMA, MOM];

const FONT = 'DejaVu Sans';
const FS = 27.8;
const LW = 4;

const toTs = (d: number) => BASE + d * DAY;
const fmtDate = (v: number) => {
  const d = new Date(v);
  return `${d.getUTCFullYear()}-${String(d.getUTCMonth() + 1).padStart(2, '0')}`;
};
const fmtNum = (v: number) => (Math.abs(v) < 1e-9 ? '0.0' : v.toFixed(1).replace('-', '\u2212'));

export default function App() {
  const ref = useRef<HTMLDivElement>(null);
  useEffect(() => {
    if (!ref.current) return;
    const chart = echarts.init(ref.current, undefined, { renderer: 'svg' });
    const xTickTs = X_TICKS.map((s) => Date.parse(s + 'T00:00:00Z'));

    const lines = NAMES.map((name, i) => ({
      name,
      type: 'line',
      data: SERIES_DATA[i].map(([d, v]) => [toTs(d), v]),
      showSymbol: false,
      symbol: 'none',
      silent: true,
      z: 2,
      lineStyle: { color: COLORS[i], width: LW, join: 'round', cap: 'butt' },
      itemStyle: { color: COLORS[i] },
      animation: false,
    }));

    const gridSeries = {
      name: '_grid',
      type: 'line',
      data: [[toTs(0), 0]],
      showSymbol: false,
      symbol: 'none',
      silent: true,
      z: 1,
      lineStyle: { opacity: 0 },
      markLine: {
        z: 1,
        silent: true,
        symbol: ['none', 'none'],
        label: { show: false },
        animation: false,
        lineStyle: { color: '#dadada', width: 2.2, type: [2.2, 3.6] },
        data: [
          ...xTickTs.map((t) => ({ xAxis: t })),
          ...Y_TICKS.map((v) => ({ yAxis: v })),
        ],
      },
    };

    const zeroSeries = {
      name: '_zero',
      type: 'line',
      data: [[toTs(0), 0]],
      showSymbol: false,
      symbol: 'none',
      silent: true,
      z: 3,
      lineStyle: { opacity: 0 },
      markLine: {
        z: 3,
        silent: true,
        symbol: ['none', 'none'],
        label: { show: false },
        animation: false,
        lineStyle: { color: '#000000', width: 2.8, type: [2.8, 4.6] },
        data: [{ yAxis: 0 }],
      },
    };

    chart.setOption({
      animation: false,
      textStyle: { fontFamily: FONT },
      grid: {
        left: 156,
        top: 30,
        width: 1814,
        height: 852,
        show: true,
        borderColor: '#000',
        borderWidth: 2.2,
        backgroundColor: 'transparent',
        containLabel: false,
      },
      legend: {
        z: 10,
        data: NAMES,
        orient: 'vertical',
        left: 1757,
        top: 44,
        padding: [7.7, 9, 10.3, 8],
        itemWidth: 60,
        itemHeight: 3.6,
        itemGap: 12.2,
        icon: 'rect',
        selectedMode: false,
        backgroundColor: 'rgba(255,255,255,0.8)',
        borderColor: '#cccccc',
        borderWidth: 2.2,
        borderRadius: 6,
        textStyle: { fontFamily: FONT, fontSize: FS, color: '#000', lineHeight: 30, padding: [0, 0, 0, 17] },
      },
      xAxis: {
        type: 'value',
        min: toTs(X_MIN_DAY),
        max: toTs(X_MAX_DAY),
        scale: true,
        name: 'Date',
        nameLocation: 'middle',
        nameGap: 60,
        nameTextStyle: { fontFamily: FONT, fontSize: FS, color: '#000' },
        axisLine: { show: false },
        axisTick: { show: true, length: 9.7, lineStyle: { color: '#000', width: 2.2 }, customValues: xTickTs },
        axisLabel: {
          show: true,
          customValues: xTickTs,
          formatter: (v: number) => fmtDate(v),
          fontFamily: FONT,
          fontSize: FS,
          color: '#000',
          margin: 21.5,
          hideOverlap: false,
        },
        splitLine: { show: false },
      },
      yAxis: {
        type: 'value',
        min: Y_MIN,
        max: Y_MAX,
        name: 'Beta',
        nameLocation: 'middle',
        nameGap: 100,
        nameRotate: 90,
        nameTextStyle: { fontFamily: FONT, fontSize: FS, color: '#000' },
        axisLine: { show: false },
        axisTick: { show: true, length: 9.7, lineStyle: { color: '#000', width: 2.2 }, customValues: Y_TICKS },
        axisLabel: {
          show: true,
          customValues: Y_TICKS,
          formatter: (v: number) => fmtNum(v),
          fontFamily: FONT,
          fontSize: FS,
          color: '#000',
          margin: 21,
        },
        splitLine: { show: false },
      },
      series: [gridSeries, ...lines, zeroSeries],
    });
    return () => chart.dispose();
  }, []);
  return <div ref={ref} style={{ position: 'fixed', left: 0, top: 0, width: 2000, height: 1000, background: '#fff' }} />;
}
